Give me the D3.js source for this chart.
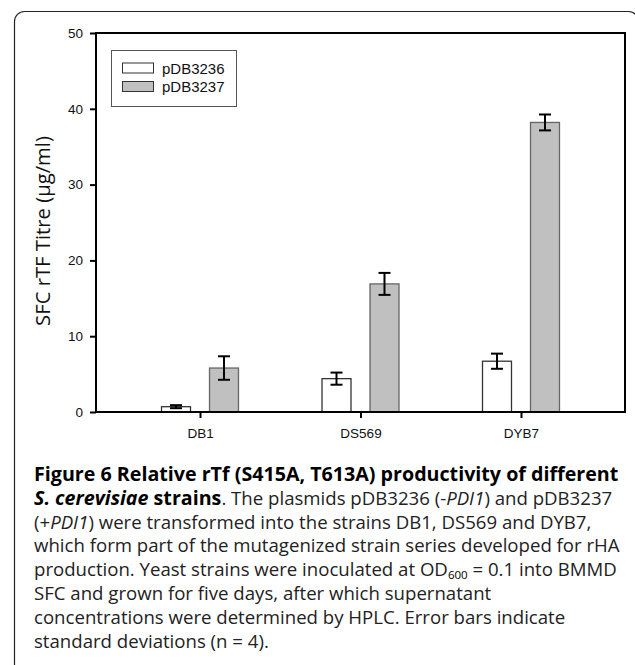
<!DOCTYPE html>
<html>
<head>
<meta charset="utf-8">
<script src="https://cdn.jsdelivr.net/npm/d3@7/dist/d3.min.js"></script>
<style>
  html, body { margin: 0; padding: 0; background: #fff; }
  svg { display: block; }
</style>
</head>
<body>
<svg id="chart" width="635" height="665"></svg>
<script>
// ---- data ----
const categories = ["DB1", "DS569", "DYB7"];
const seriesNames = ["pDB3236", "pDB3237"];
const valuesPDB3236 = [0.7, 4.4, 6.7];
const errorsPDB3236 = [0.2, 0.8, 1.0];
const valuesPDB3237 = [5.8, 16.9, 38.2];
const errorsPDB3237 = [1.55, 1.45, 1.05];
const yTicks = [0, 10, 20, 30, 40, 50];
const yTitle = "SFC rTF Titre (\u00b5g/ml)";

const seriesValues = [valuesPDB3236, valuesPDB3237];
const seriesErrors = [errorsPDB3236, errorsPDB3237];
const seriesFill = ["#ffffff", "#c0c0c0"];
const seriesStroke = ["#333333", "#666666"];

const svg = d3.select("#chart");

// outer rounded frame
svg.append("rect")
  .attr("x", 14.5).attr("y", 11.5)
  .attr("width", 624).attr("height", 720)
  .attr("rx", 10).attr("ry", 10)
  .attr("fill", "none").attr("stroke", "#222").attr("stroke-width", 1.2);

const plot = { left: 96, right: 625, top: 33, bottom: 412 };

const x0 = d3.scaleBand().domain(categories)
  .range([plot.left, plot.right]).paddingInner(0).paddingOuter(0.148);
const x1 = d3.scaleBand().domain(seriesNames)
  .range([0, x0.bandwidth()]).paddingInner(0.396).paddingOuter(0.87);
const y = d3.scaleLinear().domain([0, 50]).range([plot.bottom, plot.top]);

const rows = [];
seriesNames.forEach((s, si) => {
  categories.forEach((c, ci) => {
    rows.push({ s, si, c, v: seriesValues[si][ci], e: seriesErrors[si][ci] });
  });
});

// bars
svg.append("g").selectAll("rect").data(rows).join("rect")
  .attr("x", d => x0(d.c) + x1(d.s))
  .attr("y", d => y(d.v))
  .attr("width", x1.bandwidth())
  .attr("height", d => y(0) - y(d.v))
  .attr("fill", d => seriesFill[d.si])
  .attr("stroke", d => seriesStroke[d.si])
  .attr("stroke-width", 1.3);

// error bars
const eg = svg.append("g").attr("stroke", "#000").attr("stroke-width", 2).attr("fill", "none");
rows.forEach(d => {
  const cx = x0(d.c) + x1(d.s) + x1.bandwidth() / 2;
  const capW = 6;
  eg.append("line").attr("x1", cx).attr("x2", cx).attr("y1", y(d.v + d.e)).attr("y2", y(d.v - d.e));
  eg.append("line").attr("x1", cx - capW).attr("x2", cx + capW).attr("y1", y(d.v + d.e)).attr("y2", y(d.v + d.e));
  eg.append("line").attr("x1", cx - capW).attr("x2", cx + capW).attr("y1", y(d.v - d.e)).attr("y2", y(d.v - d.e));
});

// plot frame
svg.append("rect")
  .attr("x", plot.left).attr("y", plot.top)
  .attr("width", plot.right - plot.left).attr("height", plot.bottom - plot.top)
  .attr("fill", "none").attr("stroke", "#000").attr("stroke-width", 2);

// y axis
const yAxis = d3.axisLeft(y).tickValues(yTicks).tickSize(6).tickPadding(7).tickFormat(d3.format("d"));
const gy = svg.append("g").attr("transform", `translate(${plot.left},0)`).call(yAxis);
gy.select(".domain").remove();
gy.selectAll(".tick line").attr("stroke", "#000").attr("stroke-width", 2);
gy.selectAll(".tick text").attr("font-family", "Liberation Sans, Arial, sans-serif")
  .attr("font-size", 13.5).attr("fill", "#111");

// x axis
const xCenter = d3.scalePoint().domain(categories)
  .range([x0(categories[0]) + x0.bandwidth() / 2, x0(categories[2]) + x0.bandwidth() / 2]);
const xAxis = d3.axisBottom(xCenter).tickSize(6).tickPadding(10);
const gx = svg.append("g").attr("transform", `translate(0,${plot.bottom})`).call(xAxis);
gx.select(".domain").remove();
gx.selectAll(".tick line").attr("stroke", "#000").attr("stroke-width", 2);
gx.selectAll(".tick text").attr("font-family", "Liberation Sans, Arial, sans-serif")
  .attr("font-size", 13.5).attr("fill", "#111");

// y title (sized so it spans the reference length)
const yt = svg.append("text")
  .attr("text-anchor", "middle")
  .attr("font-family", "Open Sans, sans-serif")
  .attr("font-size", 100).attr("fill", "#111")
  .text(yTitle);
const ytLen = yt.node().getComputedTextLength();
yt.attr("font-size", 100 * 190 / ytLen)
  .attr("transform", `translate(50,${(135 + 327) / 2}) rotate(-90)`);

// legend
const lg = svg.append("g");
lg.append("rect").attr("x", 111.5).attr("y", 50.5).attr("width", 125).attr("height", 56)
  .attr("fill", "#fff").attr("stroke", "#555").attr("stroke-width", 1);
seriesNames.forEach((s, i) => {
  const yy = 63 + i * 18.5;
  lg.append("rect").attr("x", 122.5).attr("y", yy).attr("width", 31).attr("height", 10)
    .attr("fill", seriesFill[i]).attr("stroke", "#333").attr("stroke-width", 1);
  lg.append("text").attr("x", 162).attr("y", yy + 10.5)
    .attr("font-family", "Liberation Sans, Arial, sans-serif").attr("font-size", 15)
    .attr("fill", "#111").text(s);
});

// caption
const capLines = [
  [["Figure 6 Relative rTf (S415A, T613A) productivity of different", "b"]],
  [["S. cerevisiae", "bi"], [" strains", "b"], [". The plasmids pDB3236 (-", ""], ["PDI1", "i"], [") and pDB3237", ""]],
  [["(+", ""], ["PDI1", "i"], [") were transformed into the strains DB1, DS569 and DYB7,", ""]],
  [["which form part of the mutagenized strain series developed for rHA", ""]],
  [["production. Yeast strains were inoculated at OD", ""], ["600", "sub"], [" = 0.1 into BMMD", ""]],
  [["SFC and grown for five days, after which supernatant", ""]],
  [["concentrations were determined by HPLC. Error bars indicate", ""]],
  [["standard deviations (n = 4).", ""]]
];
// fit caption size so that the widest lines span the reference width
const capLeft = 34, capRight = 620;
const probe = svg.append("text").attr("font-family", "Open Sans, sans-serif").attr("font-size", 100)
  .text(capLines[3][0][0]);
const wReg = probe.node().getComputedTextLength();
probe.attr("font-weight", "bold").text(capLines[0][0][0]);
const wBold = probe.node().getComputedTextLength();
probe.remove();
const regSize = 100 * (capRight - capLeft) / wReg;
const boldSize = 100 * (619 - capLeft) / wBold;

const cap = svg.append("g").attr("font-family", "Open Sans, sans-serif").attr("font-size", regSize).attr("fill", "#222");
capLines.forEach((parts, li) => {
  const t = cap.append("text").attr("x", capLeft).attr("y", 481 + li * 23.8);
  const nodes = [];
  parts.forEach(([txt, st]) => {
    const ts = t.append("tspan").text(txt);
    if (st.includes("b")) ts.attr("font-weight", "bold").attr("fill", "#000").attr("font-size", boldSize);
    if (st.includes("i")) ts.attr("font-style", "italic");
    if (st === "sub") ts.attr("font-size", regSize * 0.62).attr("font-weight", "normal").attr("dy", 3);
    nodes.push(ts);
  });
  parts.forEach(([txt, st], pi) => {
    if (st === "sub" && nodes[pi + 1]) nodes[pi + 1].attr("dy", -3);
  });
});
</script>
</body>
</html>
